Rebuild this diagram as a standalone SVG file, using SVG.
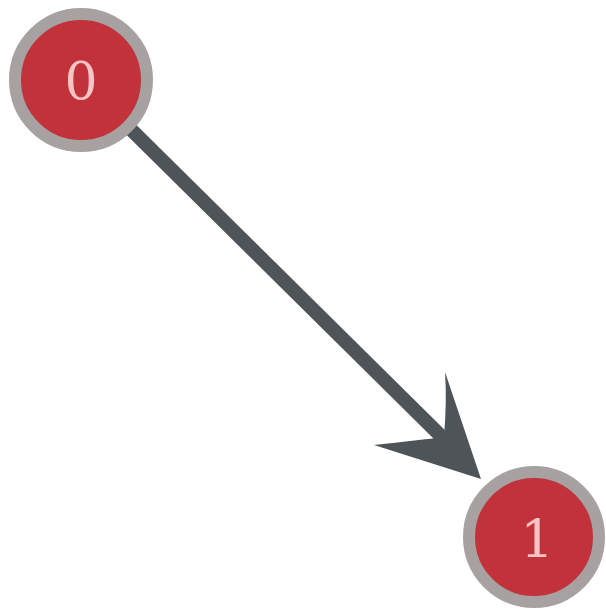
<svg xmlns="http://www.w3.org/2000/svg" width="606" height="612" viewBox="0 0 606 612">
  <style>
    .node circle { fill: #c1323b; stroke: #a8a1a1; stroke-width: 12; }
    .node text { font-family: "DejaVu Serif", "Liberation Serif", serif; font-size: 52px; fill: #f7c4c4; text-anchor: middle; dominant-baseline: central; }
    .edge { stroke: #4e5458; stroke-width: 14; fill: none; }
    .head { fill: #4e5458; }
  </style>
  <rect width="606" height="612" fill="#ffffff"/>
  <g id="connectors">
    <line class="edge" x1="81" y1="80" x2="448" y2="443"/>
    <path class="head" d="M481,479 L374,445 Q420,440 444,437 Q447,400 445,372 Z"/>
  </g>
  <g id="node-0" class="node">
    <circle cx="81" cy="80" r="66"/>
    <text x="81" y="81">0</text>
  </g>
  <g id="node-1" class="node">
    <circle cx="534" cy="537" r="65"/>
    <text x="537" y="539">1</text>
  </g>
</svg>
